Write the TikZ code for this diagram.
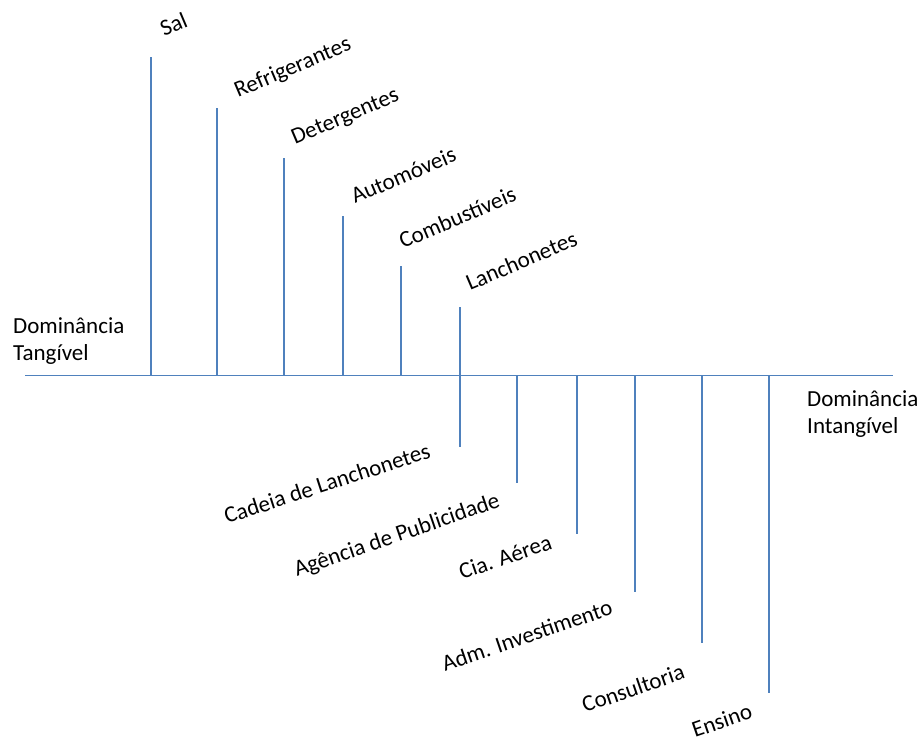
\documentclass[tikz,border=0pt]{standalone}
\usepackage{fontspec}
\setmainfont{Carlito}
\begin{document}
\begin{tikzpicture}[x=1pt,y=-1pt,
  lab/.style={anchor=base west, inner sep=0pt, font=\fontsize{23}{28}\selectfont},
  uplab/.style={lab, rotate=23},
  dnlab/.style={lab, rotate=19},
  side/.style={anchor=north west, inner sep=0pt, align=left, font=\fontsize{23}{27.5}\selectfont}]
\definecolor{axisblue}{HTML}{4F81BD}
\tikzset{bar/.style={draw=axisblue, line width=1.3pt}}
\useasboundingbox (0,0) rectangle (920,747);
% axis
\coordinate (axL) at (25,375.5);
\coordinate (axR) at (893,375.5);
\draw[bar] (axL) -- (axR);
% upper bars
\foreach \n/\x/\t in {a/151/57,b/217/108,c/284/158,d/343/216,e/401/266,f/460/307}{
  \coordinate (\n0) at (\x,375.5);
  \coordinate (\n1) at (\x,\t);
  \draw[bar] (\n0) -- (\n1);
}
% lower bars
\foreach \n/\x/\t in {g/460/447,h/517/483,i/577/534,j/635/592,k/702/643,l/769/693}{
  \coordinate (\n0) at (\x,375.5);
  \coordinate (\n1) at (\x,\t);
  \draw[bar] (\n0) -- (\n1);
}
% upper labels
\node[uplab] (sal) at (164,37) {Sal};
\node[uplab] (ref) at (238,98) {Refrigerantes};
\node[uplab] (det) at (295,145) {Detergentes};
\node[uplab] (aut) at (355,204) {Automóveis};
\node[uplab] (com) at (403,249) {Combustíveis};
\node[uplab] (lan) at (470,291) {Lanchonetes};
% lower labels
\node[dnlab, rotate=-1] (cad) at (227,524) {Cadeia de Lanchonetes};
\node[dnlab] (age) at (297,577) {Agência de Publicidade};
\node[dnlab] (cia) at (462,580) {Cia. Aérea};
\node[dnlab] (adm) at (445,672) {Adm. Investimento};
\node[dnlab] (con) at (585,713) {Consultoria};
\node[dnlab] (ens) at (695,738) {Ensino};
% side labels
\node[side] (tan) at (13,317) {Dominância\\Tangível};
\node[side] (int) at (807,390) {Dominância\\Intangível};
\end{tikzpicture}
\end{document}
